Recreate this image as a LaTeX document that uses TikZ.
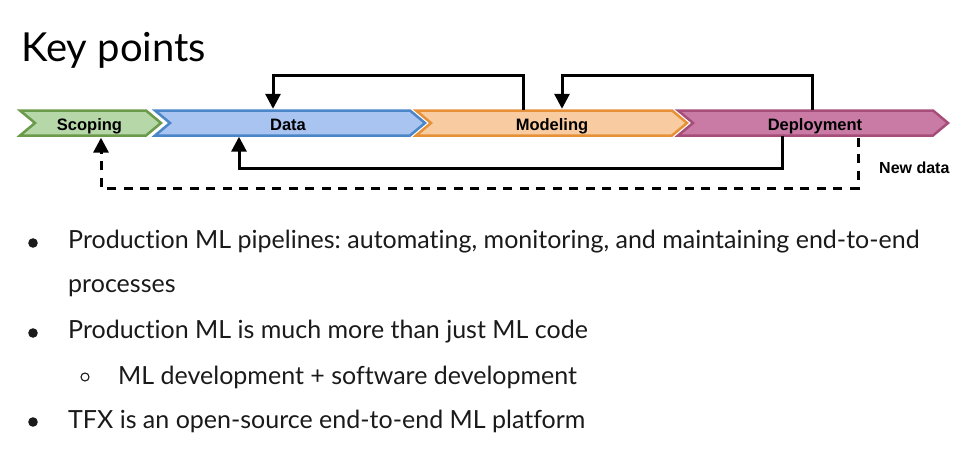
\documentclass[tikz,border=0pt]{standalone}
\usepackage{fontspec}
\setmainfont{Lato}[Ligatures=NoCommon]
\newfontfamily\arialb{Liberation Sans}
\usetikzlibrary{arrows.meta}
\frenchspacing
\definecolor{scopF}{HTML}{B6D7A8}\definecolor{scopD}{HTML}{6A9A4A}
\definecolor{dataF}{HTML}{A9C4F0}\definecolor{dataD}{HTML}{4A86C8}
\definecolor{modF}{HTML}{F8CBA0}\definecolor{modD}{HTML}{E69138}
\definecolor{depF}{HTML}{C97BA5}\definecolor{depD}{HTML}{A64D79}
\definecolor{txt}{HTML}{1A1A1A}
\begin{document}
\begin{tikzpicture}[x={(1pt,0)},y={(0,-1pt)},
  chevlabel/.style={anchor=base,inner sep=0pt,text height=19.5pt,text depth=5.5pt,font=\arialb\bfseries\fontsize{16.5}{18}\selectfont,text=black},
  loop/.style={line width=3pt,-{Triangle[length=15pt,width=15pt]},miter limit=10},
  dashloop/.style={loop,dash pattern=on 9pt off 7.5pt},
  bullettext/.style={anchor=base west,inner sep=0pt,font=\fontsize{25}{30}\selectfont,text=txt},
]
\useasboundingbox (0,0) rectangle (962,463);
% chevrons
\newcommand{\chevron}[4]{%
  \filldraw[fill=#3,draw=#4,line width=2.5pt,line join=miter]
   (#1,110.5) -- (#2,110.5) -- (#2+15,123) -- (#2,135.5) -- (#1,135.5) -- (#1+15,123) -- cycle;}
\chevron{20}{146}{scopF}{scopD}
\chevron{155}{410}{dataF}{dataD}
\chevron{416}{672}{modF}{modD}
\chevron{678}{933}{depF}{depD}
\node[chevlabel] (scop) at (89.5,130) {Scoping};
\node[chevlabel] (data) at (288,130) {Data};
\node[chevlabel] (mod) at (552,130) {Modeling};
\node[chevlabel] (dep) at (815,130) {Deployment};
\node[anchor=base west,inner sep=0pt,font=\arialb\bfseries\fontsize{16}{18}\selectfont] (nd) at (879,173) {New data};
% loop corners
\coordinate (a1) at (523,75); \coordinate (a2) at (273,75);
\coordinate (b1) at (812,75); \coordinate (b2) at (562,75);
\coordinate (c1) at (782,168); \coordinate (c2) at (239,168);
\coordinate (d1) at (858,188); \coordinate (d2) at (101,188);
\draw[loop] (mod.north -| a1) -- (a1) -- (a2) -- ([yshift=1.5pt]data.north -| a2);
\draw[loop] (dep.north -| b1) -- (b1) -- (b2) -- ([yshift=1.5pt]mod.north -| b2);
\draw[loop] (dep.south -| c1) -- (c1) -- (c2) -- ([yshift=-1pt]data.south -| c2);
\draw[dashloop,shorten <=2pt] (dep.south -| d1) -- (d1) -- (d2) -- ([yshift=-2pt]scop.south -| d2);
% title
\node[anchor=base west,inner sep=0pt,font=\fontsize{40}{48}\selectfont] (title) at (21,61) {Key points};
% bullets
\fill[txt] (33,243) circle (4.8pt);
\node[bullettext] (l1) at (68,248) {Production ML pipelines: automating, monitoring, and maintaining end-to-end};
\node[bullettext] (l2) at (68,292) {processes};
\fill[txt] (33,333) circle (4.8pt);
\node[bullettext] (l3) at (68,338) {Production ML is much more than just ML code};
\draw[txt,line width=1.1pt] (85,377) circle (4pt);
\node[bullettext] (l4) at (118,384) {ML development + software development};
\fill[txt] (33,422) circle (4.8pt);
\node[bullettext] (l5) at (68,428) {TFX is an open-source end-to-end ML platform};
\end{tikzpicture}
\end{document}
